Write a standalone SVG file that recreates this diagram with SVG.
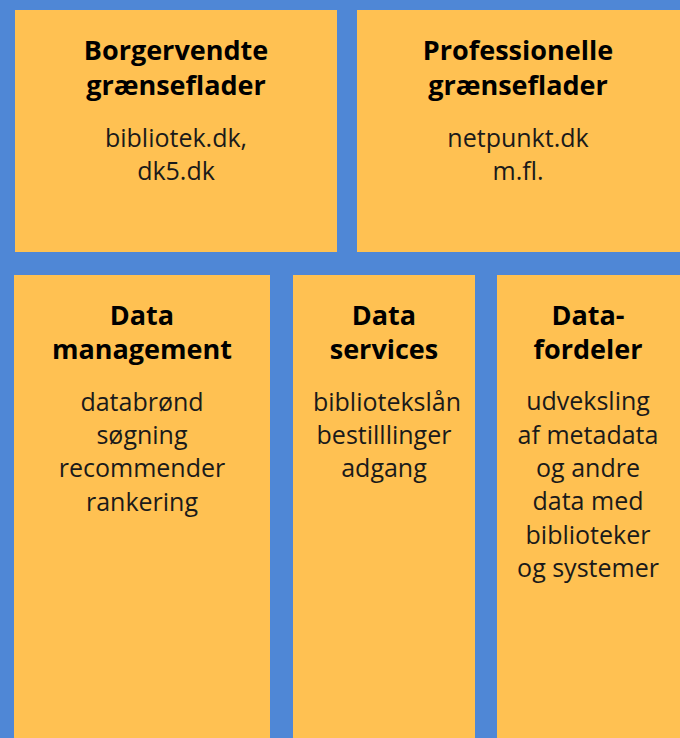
<svg xmlns="http://www.w3.org/2000/svg" width="680" height="738" viewBox="0 0 680 738">
<style>
.bg{fill:#4f87d6}
.box{fill:#ffc152}
.t{font-family:"Open Sans","Liberation Sans",sans-serif;font-weight:700;font-size:27px;fill:#000;text-anchor:middle}
.b{font-family:"Open Sans","Liberation Sans",sans-serif;font-weight:400;font-size:25px;fill:#1a1a1a;text-anchor:middle}
</style>
<rect class="bg" x="0" y="0" width="680" height="738"/>
<g id="borgervendte">
<rect class="box" x="15" y="10" width="322" height="242"/>
<text class="t" x="176" y="60">Borgervendte</text>
<text class="t" x="176" y="95">grænseflader</text>
<text class="b" x="176" y="147">bibliotek.dk,</text>
<text class="b" x="176" y="180">dk5.dk</text>
</g>
<g id="professionelle">
<rect class="box" x="357" y="10" width="323" height="242"/>
<text class="t" x="518" y="60">Professionelle</text>
<text class="t" x="518" y="95">grænseflader</text>
<text class="b" x="518" y="147">netpunkt.dk</text>
<text class="b" x="518" y="180">m.fl.</text>
</g>
<g id="datamanagement">
<rect class="box" x="14" y="275" width="256" height="463"/>
<text class="t" x="142" y="325">Data</text>
<text class="t" x="142" y="359">management</text>
<text class="b" x="142" y="411">databrønd</text>
<text class="b" x="142" y="444">søgning</text>
<text class="b" x="142" y="477">recommender</text>
<text class="b" x="142" y="511">rankering</text>
</g>
<g id="dataservices">
<rect class="box" x="293" y="275" width="182" height="463"/>
<text class="t" x="384" y="325">Data</text>
<text class="t" x="384" y="359">services</text>
<text class="b" x="387" y="411">bibliotekslån</text>
<text class="b" x="384" y="444">bestilllinger</text>
<text class="b" x="384" y="477">adgang</text>
</g>
<g id="datafordeler">
<rect class="box" x="497" y="275" width="183" height="463"/>
<text class="t" x="588" y="325">Data-</text>
<text class="t" x="588" y="359">fordeler</text>
<text class="b" x="588" y="410">udveksling</text>
<text class="b" x="588" y="444">af metadata</text>
<text class="b" x="588" y="477">og andre</text>
<text class="b" x="588" y="510">data med</text>
<text class="b" x="588" y="544">biblioteker</text>
<text class="b" x="588" y="577">og systemer</text>
</g>
<g id="connectors"></g>
</svg>
